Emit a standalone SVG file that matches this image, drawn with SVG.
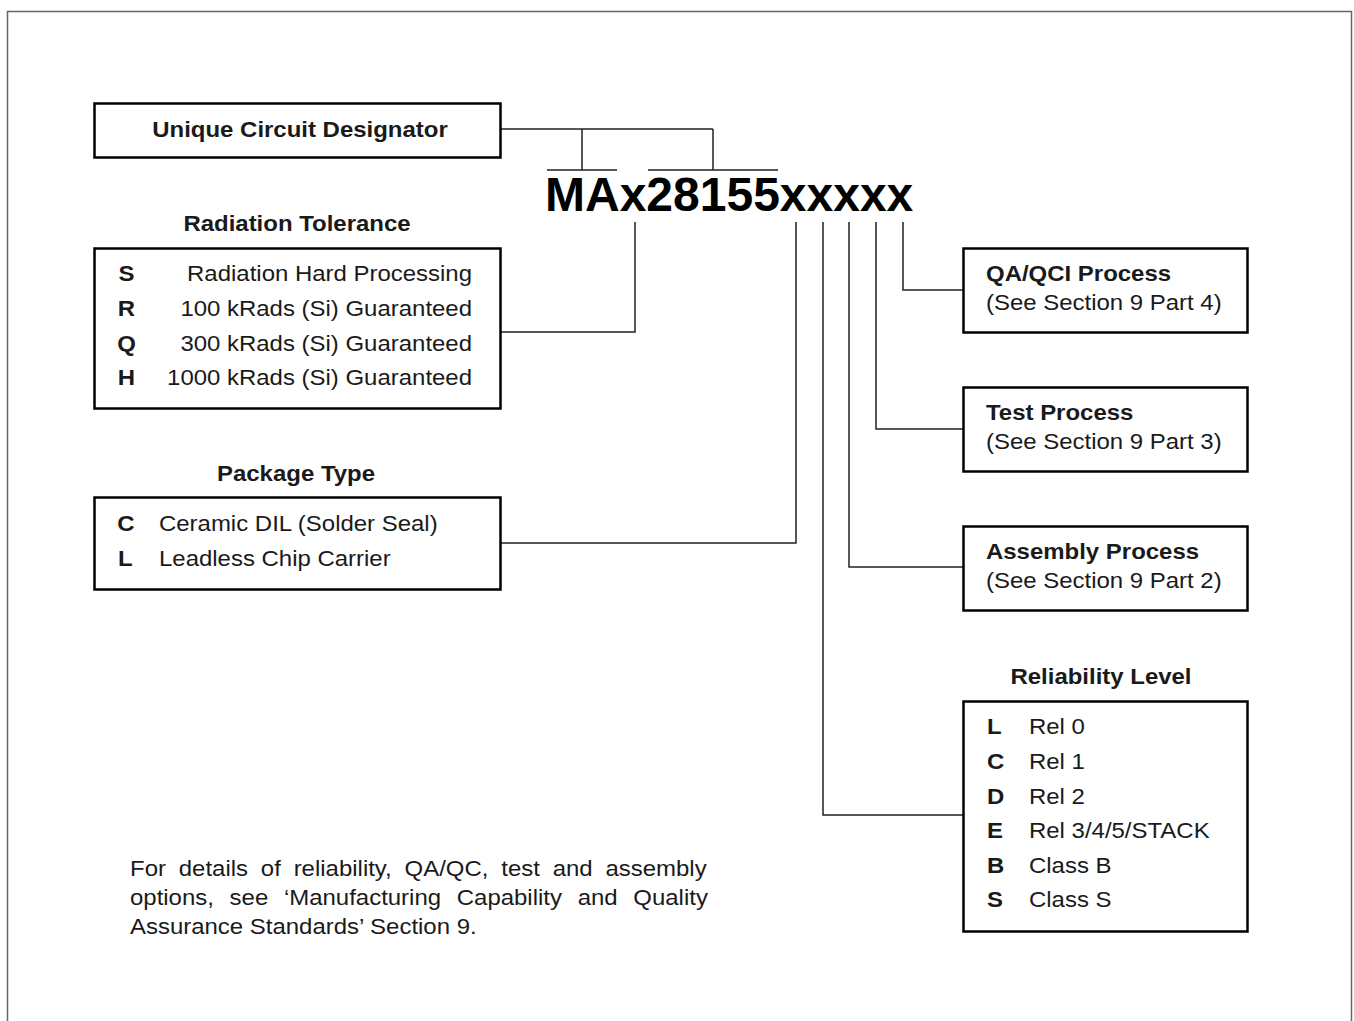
<svg xmlns="http://www.w3.org/2000/svg" width="1354" height="1021" viewBox="0 0 1354 1021">
<style>
.box{fill:#fff;stroke:#000;stroke-width:2.5}
.ln{fill:none;stroke:#222;stroke-width:1.5}
text{font-family:"Liberation Sans",Arial,sans-serif;font-size:22.5px;fill:#1a1a1a}
.b{font-weight:bold}
.t{font-weight:bold;text-anchor:middle}
.c{font-weight:bold;text-anchor:middle}
.r{text-anchor:end}
</style>
<rect x="7.5" y="11.5" width="1344" height="1020" fill="none" stroke="#666" stroke-width="1.5"/>
<g id="connectors">
<path class="ln" d="M500 129H713M582 129V170M713 129V170M547 170H617M648 170H778"/>
<path class="ln" d="M635 222V332H500"/>
<path class="ln" d="M796 222V543H500"/>
<path class="ln" d="M823 222V815H963"/>
<path class="ln" d="M849 222V567H963"/>
<path class="ln" d="M876 222V429H963"/>
<path class="ln" d="M903 222V290H963"/>
</g>
<g id="part-number">
<text x="545" y="211" class="b" style="font-size:48px;fill:#000">MAx28155xxxxx</text>
</g>
<g id="unique-circuit-designator">
<rect class="box" x="94.5" y="103.5" width="406" height="54"/>
<text transform="translate(300 137) scale(1.065 1)" class="t">Unique Circuit Designator</text>
</g>
<g id="radiation-tolerance">
<text transform="translate(297 231) scale(1.065 1)" class="t">Radiation Tolerance</text>
<rect class="box" x="94.5" y="248.5" width="406" height="160"/>
<text transform="translate(126.5 281) scale(1.065 1)" class="c">S</text><text transform="translate(472 281) scale(1.065 1)" class="r">Radiation Hard Processing</text>
<text transform="translate(126.5 316) scale(1.065 1)" class="c">R</text><text transform="translate(472 316) scale(1.065 1)" class="r">100 kRads (Si) Guaranteed</text>
<text transform="translate(126.5 351) scale(1.065 1)" class="c">Q</text><text transform="translate(472 351) scale(1.065 1)" class="r">300 kRads (Si) Guaranteed</text>
<text transform="translate(126.5 385) scale(1.065 1)" class="c">H</text><text transform="translate(472 385) scale(1.065 1)" class="r">1000 kRads (Si) Guaranteed</text>
</g>
<g id="package-type">
<text transform="translate(296 481) scale(1.065 1)" class="t">Package Type</text>
<rect class="box" x="94.5" y="497.5" width="406" height="92"/>
<text transform="translate(126 531) scale(1.065 1)" class="c">C</text><text transform="translate(159 531) scale(1.065 1)">Ceramic DIL (Solder Seal)</text>
<text transform="translate(118 566) scale(1.065 1)" class="b">L</text><text transform="translate(159 566) scale(1.065 1)">Leadless Chip Carrier</text>
</g>
<g id="qa-qci-process">
<rect class="box" x="963.5" y="248.5" width="284" height="84"/>
<text transform="translate(986 281) scale(1.065 1)" class="b">QA/QCI Process</text>
<text transform="translate(986 310) scale(1.065 1)">(See Section 9 Part 4)</text>
</g>
<g id="test-process">
<rect class="box" x="963.5" y="387.5" width="284" height="84"/>
<text transform="translate(986 420) scale(1.065 1)" class="b">Test Process</text>
<text transform="translate(986 449) scale(1.065 1)">(See Section 9 Part 3)</text>
</g>
<g id="assembly-process">
<rect class="box" x="963.5" y="526.5" width="284" height="84"/>
<text transform="translate(986 559) scale(1.065 1)" class="b">Assembly Process</text>
<text transform="translate(986 588) scale(1.065 1)">(See Section 9 Part 2)</text>
</g>
<g id="reliability-level">
<text transform="translate(1101 684) scale(1.065 1)" class="t">Reliability Level</text>
<rect class="box" x="963.5" y="701.5" width="284" height="230"/>
<text transform="translate(987 734) scale(1.065 1)" class="b">L</text><text transform="translate(1029 734) scale(1.065 1)">Rel 0</text>
<text transform="translate(987 769) scale(1.065 1)" class="b">C</text><text transform="translate(1029 769) scale(1.065 1)">Rel 1</text>
<text transform="translate(987 804) scale(1.065 1)" class="b">D</text><text transform="translate(1029 804) scale(1.065 1)">Rel 2</text>
<text transform="translate(987 838) scale(1.065 1)" class="b">E</text><text transform="translate(1029 838) scale(1.065 1)">Rel 3/4/5/STACK</text>
<text transform="translate(987 873) scale(1.065 1)" class="b">B</text><text transform="translate(1029 873) scale(1.065 1)">Class B</text>
<text transform="translate(987 907) scale(1.065 1)" class="b">S</text><text transform="translate(1029 907) scale(1.065 1)">Class S</text>
</g>
<g id="note">
<text transform="translate(130 876) scale(1.065 1)" style="word-spacing:5.8px">For details of reliability, QA/QC, test and assembly</text>
<text transform="translate(130 905) scale(1.065 1)" style="word-spacing:8.5px">options, see ‘Manufacturing Capability and Quality</text>
<text transform="translate(130 934) scale(1.065 1)">Assurance Standards’ Section 9.</text>
</g>
</svg>
